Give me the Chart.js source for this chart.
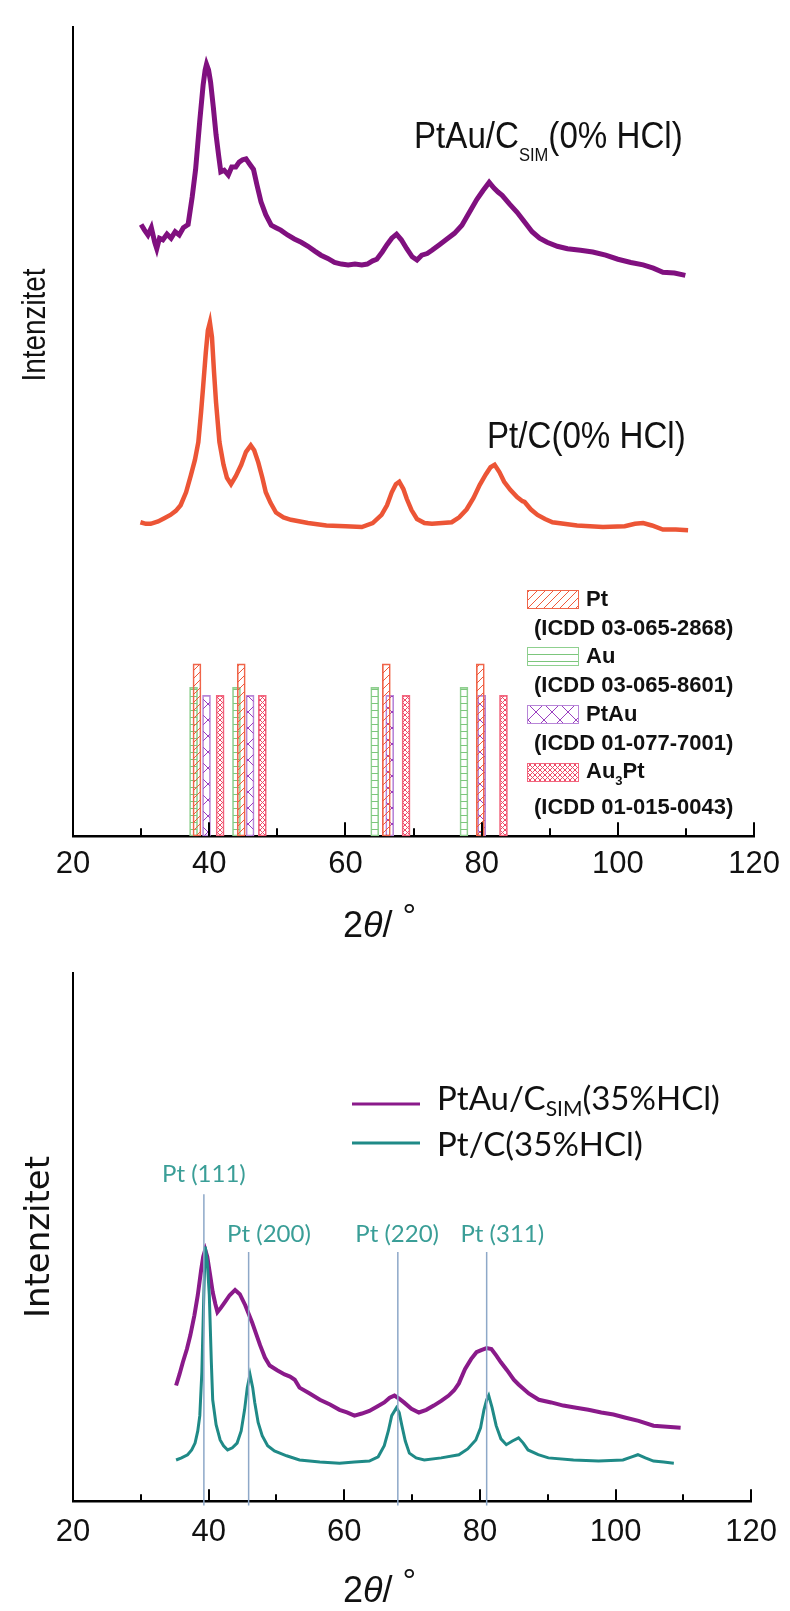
<!DOCTYPE html>
<html><head><meta charset="utf-8">
<script src="https://cdn.jsdelivr.net/npm/chart.js@4.4.1/dist/chart.umd.min.js"></script>
<style>
html,body{margin:0;padding:0;background:#fff;}
#w1{position:absolute;left:0;top:0;width:790px;height:950px;}
#w2{position:absolute;left:0;top:950px;width:790px;height:661px;}
</style></head><body>
<div id="w1"><canvas id="c1"></canvas></div>
<div id="w2"><canvas id="c2"></canvas></div>
<script>
// ---------- data ----------
const xTickLabels = ['20','40','60','80','100','120'];

// top panel (0% HCl)
const topPtAuX = [30.0,30.5,31.0,31.5,32.0,32.3,32.7,33.2,33.8,34.4,35.0,35.6,36.2,36.9,37.5,38.0,38.6,39.1,39.4,39.6,39.9,40.2,40.6,41.0,41.4,41.7,42.2,42.8,43.3,43.9,44.4,44.9,45.4,45.9,46.5,47.0,47.6,48.3,49.1,49.8,50.5,51.5,52.5,53.5,54.5,55.5,56.4,57.4,58.4,59.4,60.4,61.4,62.4,63.2,64.0,64.6,65.4,66.1,66.8,67.5,68.2,69.0,69.8,70.5,71.2,72.0,72.7,73.8,74.9,76.0,77.1,78.2,79.3,80.2,81.1,81.8,82.4,83.0,84.1,85.2,86.3,87.4,88.5,89.6,91.1,92.6,94.5,96.3,98.2,100.0,101.9,103.7,105.2,106.6,108.3,109.9];
const topPtAuY = [75.6,74.9,74.3,75.2,73.4,72.6,73.9,73.7,74.4,73.9,74.7,74.3,75.2,75.6,79.0,82.4,88.3,92.8,94.7,95.4,94.7,93.2,90.1,86.7,84.0,82.1,82.3,81.7,82.7,82.7,83.3,83.6,83.7,83.1,82.4,80.5,78.4,76.8,75.5,75.2,74.9,74.3,73.8,73.4,72.9,72.3,71.8,71.4,70.9,70.7,70.6,70.7,70.6,70.7,71.1,71.3,72.2,73.1,73.9,74.4,73.7,72.6,71.6,71.2,71.8,72.0,72.4,73.1,73.8,74.5,75.5,77.1,78.7,79.8,80.8,80.1,79.6,79.2,78.1,77.1,75.9,74.7,73.9,73.4,72.9,72.6,72.4,72.2,71.8,71.3,70.9,70.6,70.2,69.7,69.6,69.3];
const topPtX = [29.9,30.7,31.4,32.5,33.4,34.3,35.1,35.8,36.6,37.3,37.9,38.4,38.8,39.1,39.5,39.8,40.1,40.4,40.7,41.0,41.5,42.1,42.6,43.2,43.9,44.7,45.4,46.1,46.6,47.2,47.8,48.3,49.0,49.8,50.9,52.0,54.5,57.2,60.0,62.4,64.0,65.3,66.1,66.8,67.4,67.9,68.5,69.0,69.7,70.5,71.6,72.7,74.2,75.6,76.7,77.8,78.8,79.7,80.6,81.3,81.9,82.6,83.3,84.2,85.2,86.0,86.3,87.2,88.2,89.3,90.4,94.0,97.8,101.0,102.5,103.7,105.0,106.6,108.5,110.3];
const topPtY = [38.8,38.6,38.6,38.9,39.3,39.7,40.2,40.9,42.5,44.6,46.5,48.7,52.4,55.5,59.8,62.5,63.5,61.7,57.4,53.6,48.7,45.9,44.3,43.5,44.5,45.9,47.5,48.3,47.7,46.2,44.3,42.5,41.2,40.0,39.4,39.1,38.7,38.4,38.3,38.2,38.7,39.7,40.9,42.5,43.5,43.8,42.9,41.7,40.3,39.2,38.7,38.6,38.7,38.8,39.4,40.4,41.8,43.4,44.7,45.6,45.9,45.0,43.8,42.8,41.9,41.4,41.3,40.4,39.7,39.2,38.8,38.4,38.2,38.3,38.6,38.7,38.4,37.9,37.9,37.8];

// reference patterns (stick positions and heights)
const refNames = ['Pt','Au','PtAu','Au3Pt'];
const refCodes = ['(ICDD 03-065-2868)','(ICDD 03-065-8601)','(ICDD 01-077-7001)','(ICDD 01-015-0043)'];
const refPtX = [38.2,44.7,66.0,79.8];
const refPtH = [21.3,21.3,21.3,21.3];
const refAuX = [37.7,44.0,64.3,77.4];
const refAuH = [18.4,18.4,18.4,18.4];
const refPtAuX = [39.6,46.0,66.5,80.0];
const refPtAuH = [17.4,17.4,17.4,17.4];
const refAu3PtX = [41.6,47.8,68.9,83.2];
const refAu3PtH = [17.4,17.4,17.4,17.4];

// bottom panel (35% HCl)
const botPtAuX = [35.2,35.7,36.2,36.8,37.3,37.9,38.4,38.9,39.2,39.5,39.8,40.2,40.6,41.0,41.3,41.8,42.4,43.1,43.9,44.6,45.4,46.4,47.6,48.3,49.0,50.1,51.2,52.0,52.7,53.4,54.9,56.4,57.9,59.3,60.4,61.5,62.6,63.7,64.8,65.9,66.7,67.4,68.1,68.8,69.9,71.0,72.1,73.2,74.3,75.4,76.2,76.9,77.8,78.7,79.5,80.2,81.0,81.7,82.4,83.1,84.0,85.0,85.7,87.2,88.7,90.5,92.3,94.2,96.0,97.9,99.7,101.5,103.4,105.6,107.6,109.6];
const botPtAuY = [21.9,24.0,26.3,28.8,31.4,35.2,39.0,43.8,46.3,47.6,46.3,43.0,39.6,37.3,35.8,36.6,37.7,39.0,40.0,39.2,37.1,33.9,29.5,27.2,25.7,24.8,24.0,23.6,23.0,21.5,20.4,19.2,18.3,17.3,16.8,16.2,16.6,17.1,17.9,18.7,19.6,20.0,19.4,18.7,17.5,16.8,17.3,18.1,19.0,20.0,21.0,22.3,25.0,26.9,28.2,28.6,29.0,28.8,27.6,26.3,24.8,23.0,22.1,20.4,19.2,18.7,18.1,17.7,17.3,16.8,16.4,15.8,15.2,14.3,14.1,13.9];
const botPtX = [35.2,36.0,36.9,37.5,38.0,38.4,38.7,39.0,39.3,39.5,39.8,40.1,40.4,40.6,41.1,41.7,42.2,42.8,43.5,44.2,44.8,45.3,45.7,46.1,46.5,46.8,47.3,47.9,48.7,49.7,51.5,53.4,56.4,59.3,61.5,63.7,65.0,65.9,66.5,67.0,67.7,68.1,68.5,69.0,69.6,70.6,71.8,74.3,76.9,78.2,79.4,80.1,80.6,81.0,81.3,81.8,82.4,83.1,83.9,84.8,85.7,86.4,87.1,88.6,90.1,93.8,97.5,101.1,102.4,103.3,104.4,105.6,107.1,108.6];
const botPtY = [7.8,8.2,8.8,9.7,11.0,13.3,16.2,24.4,39.6,48.2,45.3,39.0,26.3,19.2,14.5,11.6,10.5,9.7,10.1,11.0,13.3,17.3,21.5,24.0,21.5,18.7,14.9,12.4,10.5,9.5,8.6,7.8,7.4,7.2,7.4,7.6,8.4,10.5,13.3,16.2,17.7,16.8,14.3,11.4,9.1,8.2,7.8,8.2,8.8,9.9,11.6,13.9,17.3,19.2,20.0,17.7,14.3,11.8,10.7,11.4,12.0,11.0,9.7,8.8,8.2,7.8,7.6,7.8,8.4,8.8,8.2,7.6,7.4,7.2];

// Pt reflection markers in bottom panel
const peakLabels = ['Pt (111)','Pt (200)','Pt (220)','Pt (311)'];
const peakLineX = [39.3,45.9,67.9,81.0];
const peakLineTop = [58.1,47.2,47.2,47.2];
const peakLineBottom = -0.8;
const peakLabelX = [39.3,48.9,67.8,83.3];
const peakLabelY = [61.9,50.5,50.5,50.5];

// ---------- helpers ----------
const pts = (xs, ys) => xs.map((x, i) => ({x: x, y: ys[i]}));
const ARIAL = "'Liberation Sans',Arial,sans-serif";

function makePattern(kind, color) {
  const c = document.createElement('canvas');
  const s = {diag: 8, horiz: 7, cross: 16, fine: 5}[kind];
  c.width = kind === 'horiz' ? 8 : s; c.height = s;
  const g = c.getContext('2d');
  g.strokeStyle = color; g.lineWidth = 1;
  g.beginPath();
  if (kind === 'diag') {
    g.moveTo(0, s); g.lineTo(s, 0);
    g.moveTo(-2, 2); g.lineTo(2, -2);
    g.moveTo(s - 2, s + 2); g.lineTo(s + 2, s - 2);
  } else if (kind === 'horiz') {
    g.moveTo(0, 3.5); g.lineTo(8, 3.5);
  } else {
    g.moveTo(0, 0); g.lineTo(s, s);
    g.moveTo(s, 0); g.lineTo(0, s);
  }
  g.stroke();
  return g.createPattern(c, 'repeat');
}
const refStyle = [
  {pat: makePattern('diag', '#ef5a3c'), border: '#f0654a'},
  {pat: makePattern('horiz', '#7cc67c'), border: '#8fd08f'},
  {pat: makePattern('cross', '#9a3fc0'), border: '#b886d8'},
  {pat: makePattern('fine', '#ee4a68'), border: '#f2667e'}
];

const inwardTicks = {
  id: 'inwardTicks',
  afterDatasetsDraw(chart, args, opts) {
    const xs = chart.scales.x, ctx = chart.ctx, b = chart.chartArea.bottom;
    ctx.save(); ctx.strokeStyle = '#000'; ctx.lineWidth = 2;
    for (let v = xs.min; v <= xs.max; v += 10) {
      const px = Math.round(xs.getPixelForValue(v));
      const len = (v % 20 === 0) ? opts.major : opts.minor;
      ctx.beginPath(); ctx.moveTo(px, b); ctx.lineTo(px, b - len); ctx.stroke();
    }
    ctx.restore();
  }
};

function drawXTitle(ctx, x, base) {
  ctx.save(); ctx.fillStyle = '#111'; ctx.textBaseline = 'alphabetic'; ctx.textAlign = 'left';
  ctx.font = "36px " + ARIAL; ctx.fillText('2', x, base); x += ctx.measureText('2').width;
  ctx.font = "italic 36px " + ARIAL; ctx.fillText('\u03B8', x, base); x += ctx.measureText('\u03B8').width;
  ctx.font = "36px " + ARIAL; ctx.fillText('/', x, base); x += ctx.measureText('/').width + 10;
  ctx.font = "34px " + ARIAL; ctx.fillText('\u00B0', x, base - 10);
  ctx.restore();
}
function drawYTitle(ctx, cx, cy, font, sx) {
  ctx.save(); ctx.translate(cx, cy); ctx.rotate(-Math.PI / 2); ctx.scale(sx || 1, 1);
  ctx.fillStyle = '#111'; ctx.textAlign = 'center'; ctx.textBaseline = 'middle';
  ctx.font = font; ctx.fillText('Intenzitet', 0, 0);
  ctx.restore();
}
function drawSub(ctx, x, base, parts, sx) {
  // parts: [text, font, dy]; sx: horizontal condensing factor
  sx = sx || 1;
  ctx.save(); ctx.translate(x, base); ctx.scale(sx, 1);
  let px = 0;
  for (const p of parts) { ctx.font = p[1]; ctx.fillText(p[0], px, p[2]); px += ctx.measureText(p[0]).width; }
  ctx.restore();
}

const topText = {
  id: 'topText',
  afterDraw(chart) {
    const ctx = chart.ctx;
    drawYTitle(ctx, 36, 325, "34px " + ARIAL, 0.82);
    drawXTitle(ctx, 343, 937);
    ctx.save(); ctx.fillStyle = '#111'; ctx.textAlign = 'left'; ctx.textBaseline = 'alphabetic';
    drawSub(ctx, 414, 148, [['PtAu/C', '36px ' + ARIAL, 0], ['SIM', '18px ' + ARIAL, 13], ['(0% HCl)', '36px ' + ARIAL, 0]], 0.92);
    drawSub(ctx, 487, 448, [['Pt/C(0% HCl)', '36px ' + ARIAL, 0]], 0.92);
    // legend for reference patterns
    const swY = [590, 647, 705, 763], nameY = [600, 657, 715, 772], codeY = [629, 686, 744, 808];
    ctx.textBaseline = 'middle';
    for (let i = 0; i < 4; i++) {
      ctx.fillStyle = refStyle[i].pat; ctx.fillRect(527, swY[i], 52, 19);
      ctx.strokeStyle = refStyle[i].border; ctx.lineWidth = 1; ctx.strokeRect(527.5, swY[i] + 0.5, 51, 18);
      ctx.fillStyle = '#111';
      const bf = 'bold 22px ' + ARIAL;
      if (refNames[i] === 'Au3Pt') {
        drawSub(ctx, 586, nameY[i], [['Au', bf, 0], ['3', 'bold 13px ' + ARIAL, 9], ['Pt', bf, 0]]);
      } else {
        drawSub(ctx, 586, nameY[i], [[refNames[i], bf, 0]]);
      }
      drawSub(ctx, 534, codeY[i], [[refCodes[i], bf, 0]]);
    }
    ctx.restore();
  }
};

const botText = {
  id: 'botText',
  afterDraw(chart) {
    const ctx = chart.ctx, xs = chart.scales.x, ys = chart.scales.y;
    drawYTitle(ctx, 40, 287, "34px 'DejaVu Sans',sans-serif", 1);
    drawXTitle(ctx, 343, 652);
    ctx.save();
    // legend
    const lg = [['#8a1a8a', 154], ['#1f8a87', 193]];
    ctx.lineWidth = 3;
    for (const l of lg) { ctx.strokeStyle = l[0]; ctx.beginPath(); ctx.moveTo(352, l[1]); ctx.lineTo(420, l[1]); ctx.stroke(); }
    ctx.fillStyle = '#111'; ctx.textAlign = 'left'; ctx.textBaseline = 'alphabetic';
    drawSub(ctx, 437, 160, [['PtAu/C', '33px Lato,sans-serif', 0], ['SIM', '21px Lato,sans-serif', 6], ['(35%HCl)', '33px Lato,sans-serif', 0]]);
    drawSub(ctx, 437, 206, [['Pt/C(35%HCl)', '33px Lato,sans-serif', 0]]);
    // peak labels
    ctx.fillStyle = '#3a9e97'; ctx.textAlign = 'center'; ctx.textBaseline = 'middle';
    ctx.font = '24px Lato,sans-serif';
    for (let i = 0; i < peakLabels.length; i++) {
      ctx.fillText(peakLabels[i], xs.getPixelForValue(peakLabelX[i]), ys.getPixelForValue(peakLabelY[i]));
    }
    ctx.restore();
  }
};

function xScale(pad) {
  return {
    type: 'linear', min: 20, max: 120, offset: false,
    grid: {display: false, drawTicks: false},
    border: {display: true, color: '#000', width: 2.5},
    ticks: {stepSize: 20, padding: pad, color: '#111', maxRotation: 0,
      font: {family: ARIAL, size: 31, lineHeight: 1.2},
      callback: v => xTickLabels.includes(String(v)) ? String(v) : ''}
  };
}
function yScale() {
  return {
    type: 'linear', min: 0, max: 100, stacked: false,
    grid: {display: false, drawTicks: false},
    border: {display: true, color: '#000', width: 2},
    ticks: {display: false}
  };
}

// ---------- top chart ----------
const refSets = [[refPtX, refPtH], [refAuX, refAuH], [refPtAuX, refPtAuH], [refAu3PtX, refAu3PtH]];
const barOrder = [0, 2, 3, 1];
const topDatasets = barOrder.map(i => ({
  type: 'bar', label: refNames[i], data: pts(refSets[i][0], refSets[i][1]),
  backgroundColor: refStyle[i].pat, borderColor: refStyle[i].border, borderWidth: 1,
  borderSkipped: false, barThickness: 8, stack: 'ref'
}));
topDatasets.push(
  {type: 'line', label: 'PtAu/C SIM (0% HCl)', data: pts(topPtAuX, topPtAuY), borderColor: '#80107f', borderWidth: 5, pointRadius: 0, tension: 0, fill: false},
  {type: 'line', label: 'Pt/C (0% HCl)', data: pts(topPtX, topPtY), borderColor: '#ec5536', borderWidth: 4.5, pointRadius: 0, tension: 0, fill: false}
);

new Chart(document.getElementById('c1'), {
  type: 'line',
  data: {datasets: topDatasets},
  options: {
    responsive: true, maintainAspectRatio: false, animation: false, devicePixelRatio: 1,
    layout: {padding: {left: 73, right: 33, top: 27, bottom: 56.6}},
    plugins: {legend: {display: false}, tooltip: {enabled: false}, inwardTicks: {major: 14, minor: 8}},
    scales: {x: xScale(10), y: yScale()}
  },
  plugins: [inwardTicks, topText]
});

// ---------- bottom chart ----------
const botDatasets = peakLineX.map((x, i) => ({
  type: 'line', label: peakLabels[i], data: [{x: x, y: peakLineTop[i]}, {x: x, y: peakLineBottom}],
  borderColor: '#8ea8c8', borderWidth: 1.5, pointRadius: 0, clip: false, fill: false
}));
botDatasets.push(
  {type: 'line', label: 'Pt/C(35%HCl)', data: pts(botPtX, botPtY), borderColor: '#1f8a87', borderWidth: 3, pointRadius: 0, tension: 0, fill: false},
  {type: 'line', label: 'PtAu/C SIM (35%HCl)', data: pts(botPtAuX, botPtAuY), borderColor: '#8a1a8a', borderWidth: 4, pointRadius: 0, tension: 0, fill: false}
);

new Chart(document.getElementById('c2'), {
  type: 'line',
  data: {datasets: botDatasets},
  options: {
    responsive: true, maintainAspectRatio: false, animation: false, devicePixelRatio: 1,
    layout: {padding: {left: 73, right: 31, top: 23, bottom: 46.6}},
    plugins: {legend: {display: false}, tooltip: {enabled: false}, inwardTicks: {major: 12, minor: 7}},
    scales: {x: xScale(13), y: yScale()}
  },
  plugins: [inwardTicks, botText]
});
</script>
</body></html>
